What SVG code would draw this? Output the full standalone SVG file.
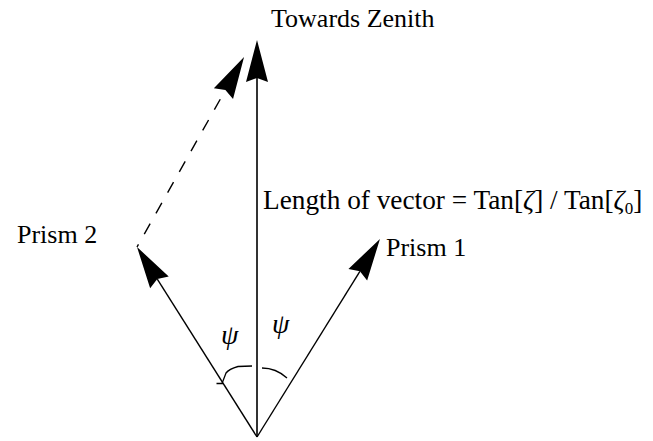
<svg xmlns="http://www.w3.org/2000/svg" width="653" height="441" viewBox="0 0 653 441">
<style>
  text { font-family: "Liberation Serif", "Times New Roman", serif; font-size: 26px; fill: #000; }
  text.formula { font-size: 27.3px; }
  .greek { font-style: italic; font-size: 28px; }
  .line { stroke: #000; stroke-width: 1.4; fill: none; }
  .axis { stroke: #333; stroke-width: 2; fill: none; }
  .dash { stroke: #000; stroke-width: 1.4; fill: none; stroke-dasharray: 12 11.8; stroke-dashoffset: 9; }
  .arc { stroke: #000; stroke-width: 1.3; fill: none; }
</style>
<defs>
  <marker id="head" viewBox="-44 -12 46 24" markerWidth="46" markerHeight="24" refX="-38" refY="0" markerUnits="userSpaceOnUse" orient="auto">
    <path d="M0,0 L-42,-11 L-38,0 L-42,11 Z" fill="#000"/>
  </marker>
</defs>
<g id="connectors">
  <path id="zenith-arrow" class="axis" d="M257,437 V78" marker-end="url(#head)"/>
  <path id="prism2-arrow" class="line" d="M257,437 L157.3,279.1" marker-end="url(#head)"/>
  <path id="prism1-arrow" class="line" d="M257,437 L359.9,271.3" marker-end="url(#head)"/>
  <path id="dashed-arrow" class="dash" d="M137,247 L225.4,90.1" marker-end="url(#head)"/>
  <path id="arc-left" class="arc" d="M216.5,383.5 H223 M222,383.5 L226,373 Q229,369 238,366.5 L252,366"/>
  <path id="arc-right" class="arc" d="M262,368 Q276,368 287,378"/>
</g>
<g id="label-zenith"><text x="271" y="27">Towards Zenith</text></g>
<g id="label-length"><text class="formula" x="263" y="209">Length of vector = Tan[<tspan font-style="italic">ζ</tspan>] / Tan[<tspan font-style="italic">ζ</tspan><tspan font-size="17" dy="5">0</tspan><tspan dy="-5">]</tspan></text></g>
<g id="label-prism1"><text x="386" y="256">Prism 1</text></g>
<g id="label-prism2"><text x="17" y="243">Prism 2</text></g>
<g id="label-psi-left"><text class="greek" x="221" y="344">ψ</text></g>
<g id="label-psi-right"><text class="greek" x="272" y="333">ψ</text></g>
</svg>
